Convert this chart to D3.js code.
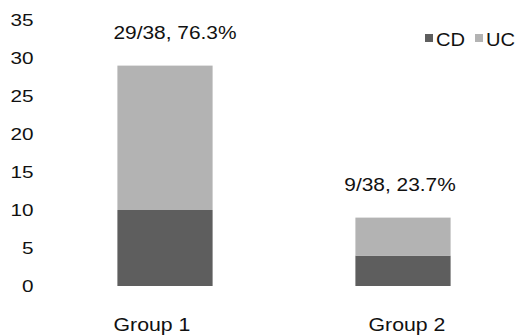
<!DOCTYPE html>
<html>
<head>
<meta charset="utf-8">
<script src="https://cdn.jsdelivr.net/npm/d3@7"></script>
<style>
  body { margin: 0; background: #fff; }
  svg { display: block; font-family: "Liberation Sans", Arial, sans-serif; }
</style>
</head>
<body>
<div id="chart"></div>
<script>
// data
const groups = ["Group 1", "Group 2"];
const seriesNames = ["CD", "UC"];
const cdValues = [10, 4];
const ucValues = [19, 5];
const annotations = ["29/38, 76.3%", "9/38, 23.7%"];
const yTicks = [0, 5, 10, 15, 20, 25, 30, 35];

const W = 517, H = 336;
const colors = { CD: "#5e5e5e", UC: "#b3b3b3" };
// small label nudges seen in the picture
const labelShift = [-13, 4];
const noteShift = [10, -3];

const rows = groups.map((g, i) => ({ group: g, CD: cdValues[i], UC: ucValues[i] }));
const stacked = d3.stack().keys(seriesNames)(rows);

const svg = d3.select("#chart").append("svg")
  .attr("width", W).attr("height", H);

const x = d3.scaleBand().domain(groups).range([46, 522])
  .paddingInner(0.6).paddingOuter(0.3);
const y = d3.scaleLinear().domain([0, 35]).range([286, 20]);

// y axis, labels only
const yAxis = svg.append("g")
  .attr("transform", "translate(33.5,0)")
  .call(d3.axisLeft(y).tickValues(yTicks).tickSize(0).tickPadding(0));
yAxis.select(".domain").remove();
yAxis.selectAll("text")
  .attr("transform", "scale(1.22,1)")
  .style("font-size", "17px")
  .style("font-family", "'Liberation Sans', Arial, sans-serif")
  .attr("fill", "#111");

// bars
svg.selectAll("g.layer")
  .data(stacked)
  .enter().append("g")
  .attr("class", "layer")
  .attr("fill", d => colors[d.key])
  .selectAll("rect")
  .data(d => d)
  .enter().append("rect")
  .attr("x", d => x(d.data.group))
  .attr("y", d => y(d[1]))
  .attr("width", x.bandwidth())
  .attr("height", d => y(d[0]) - y(d[1]));

// totals above bars
svg.selectAll("text.note")
  .data(rows)
  .enter().append("text")
  .attr("class", "note")
  .attr("text-anchor", "middle")
  .attr("transform", (d, i) =>
    `translate(${x(d.group) + x.bandwidth() / 2 + noteShift[i]},${y(d.CD + d.UC) - 27}) scale(1.13,1)`)
  .style("font-size", "18.5px")
  .attr("fill", "#111")
  .text((d, i) => annotations[i]);

// category labels
svg.selectAll("text.cat")
  .data(groups)
  .enter().append("text")
  .attr("class", "cat")
  .attr("text-anchor", "middle")
  .attr("transform", (d, i) =>
    `translate(${x(d) + x.bandwidth() / 2 + labelShift[i]},331) scale(1.12,1)`)
  .style("font-size", "19px")
  .attr("fill", "#111")
  .text(d => d);

// legend
const legendX = [425, 475];
const legend = svg.selectAll("g.leg")
  .data(seriesNames)
  .enter().append("g")
  .attr("class", "leg")
  .attr("transform", (d, i) => `translate(${legendX[i]},34)`);
legend.append("rect")
  .attr("width", 8).attr("height", 8)
  .attr("fill", d => colors[d]);
legend.append("text")
  .attr("transform", "translate(11,12) scale(1.15,1)")
  .style("font-size", "17.5px")
  .attr("fill", "#111")
  .text(d => d);
</script>
</body>
</html>
